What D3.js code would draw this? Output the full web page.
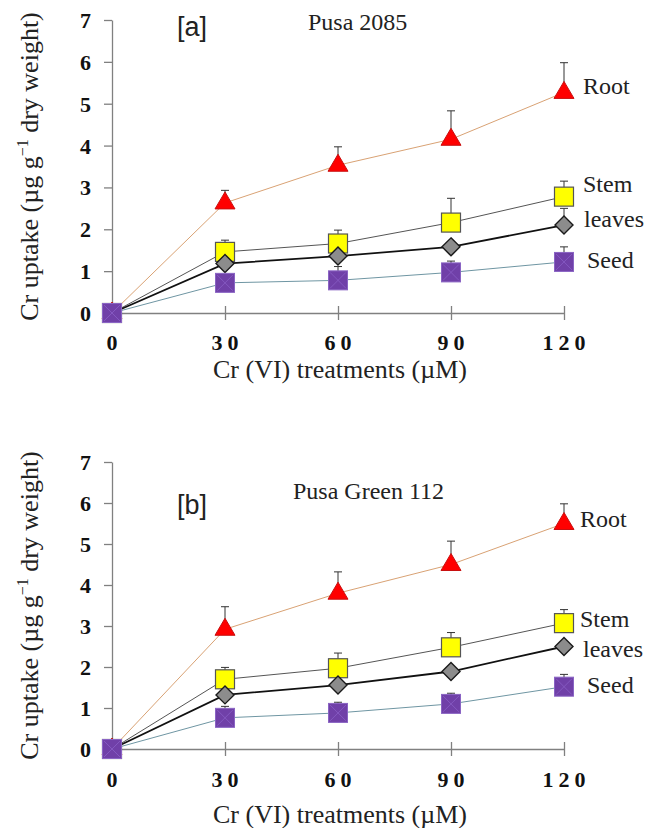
<!DOCTYPE html>
<html>
<head>
<meta charset="utf-8">
<script src="https://cdn.jsdelivr.net/npm/d3@7"></script>
<style>
  html, body { margin: 0; padding: 0; background: #fff; }
</style>
</head>
<body>
<svg id="chart" width="646" height="828"></svg>
<script>
// shared x categories (µM)
const DOSES = [0, 30, 60, 90, 120];
const Y_TICKS = [0, 1, 2, 3, 4, 5, 6, 7];

// panel [a] Pusa 2085 — means and upper error
const A_ROOT = [0, 2.63, 3.53, 4.15, 5.27];
const A_ROOT_ERR = [0, 0.3, 0.44, 0.68, 0.71];
const A_STEM = [0, 1.46, 1.66, 2.16, 2.78];
const A_STEM_ERR = [0, 0.28, 0.32, 0.58, 0.37];
const A_LEAVES = [0, 1.18, 1.36, 1.58, 2.1];
const A_LEAVES_ERR = [0, 0.1, 0.1, 0.12, 0.4];
const A_SEED = [0, 0.72, 0.78, 0.97, 1.22];
const A_SEED_ERR = [0, 0.1, 0.33, 0.27, 0.36];

// panel [b] Pusa Green 112
const B_ROOT = [0, 2.92, 3.8, 4.5, 5.5];
const B_ROOT_ERR = [0, 0.55, 0.52, 0.57, 0.48];
const B_STEM = [0, 1.7, 1.97, 2.48, 3.07];
const B_STEM_ERR = [0, 0.29, 0.37, 0.36, 0.33];
const B_LEAVES = [0, 1.32, 1.56, 1.89, 2.5];
const B_LEAVES_ERR = [0, 0.1, 0.1, 0.1, 0.1];
const B_SEED = [0, 0.76, 0.88, 1.1, 1.52];
const B_SEED_ERR = [0, 0.28, 0.26, 0.26, 0.3];

const SERIF = '"Liberation Serif", "Times New Roman", serif';
const SANS = '"Liberation Sans", Arial, sans-serif';

const SERIES = [
  { name: 'Root', shape: 'tri', line: '#d9a274', lw: 1 },
  { name: 'Stem', shape: 'sq', line: '#555', lw: 1 },
  { name: 'leaves', shape: 'dia', line: '#111', lw: 1.8 },
  { name: 'Seed', shape: 'seed', line: '#6f96a3', lw: 1 },
];

const PANELS = [
  { tag: '[a]', title: 'Pusa 2085', top: 20, bottom: 313, tickY: 350, xTitleY: 378,
    vals: [A_ROOT, A_STEM, A_LEAVES, A_SEED], errs: [A_ROOT_ERR, A_STEM_ERR, A_LEAVES_ERR, A_SEED_ERR],
    tagPos: [177, 36], titlePos: [308, 30],
    labels: [[583, 94], [583, 192], [584, 227], [587, 268]] },
  { tag: '[b]', title: 'Pusa Green 112', top: 462, bottom: 749, tickY: 787, xTitleY: 823,
    vals: [B_ROOT, B_STEM, B_LEAVES, B_SEED], errs: [B_ROOT_ERR, B_STEM_ERR, B_LEAVES_ERR, B_SEED_ERR],
    tagPos: [177, 514], titlePos: [293, 499],
    labels: [[580, 527], [580, 627], [583, 657], [587, 693]] },
];

const svg = d3.select('#chart');
const x = d3.scaleLinear().domain([0, 120]).range([112, 564]);

function marker(g, shape, cx, cy) {
  if (shape === 'tri') {
    g.append('path').attr('d', `M${cx},${cy - 11}L${cx + 10},${cy + 6}L${cx - 10},${cy + 6}Z`)
      .attr('fill', '#ff0000').attr('stroke', '#c81010').attr('stroke-width', 1);
  } else if (shape === 'sq') {
    g.append('rect').attr('x', cx - 9.5).attr('y', cy - 9.5).attr('width', 19).attr('height', 19)
      .attr('fill', '#ffff00').attr('stroke', '#555').attr('stroke-width', 1.2);
  } else if (shape === 'dia') {
    g.append('path').attr('d', `M${cx},${cy - 9}L${cx + 9},${cy}L${cx},${cy + 9}L${cx - 9},${cy}Z`)
      .attr('fill', '#8c8c8c').attr('stroke', '#1a1a1a').attr('stroke-width', 1.4);
  } else {
    g.append('rect').attr('x', cx - 9.5).attr('y', cy - 9.5).attr('width', 19).attr('height', 19)
      .attr('fill', '#7040a8').attr('stroke', '#8a64c4').attr('stroke-width', 1);
    g.append('path').attr('d', `M${cx - 8},${cy - 8}L${cx + 8},${cy + 8}M${cx + 8},${cy - 8}L${cx - 8},${cy + 8}`)
      .attr('stroke', '#8458c0').attr('stroke-width', 1);
  }
}

PANELS.forEach(p => {
  const y = d3.scaleLinear().domain([0, 7]).range([p.bottom, p.top]);
  const g = svg.append('g');

  // y axis
  const ya = g.append('g').attr('transform', `translate(${x(0)},0)`)
    .call(d3.axisLeft(y).tickValues(Y_TICKS).tickSize(8).tickSizeOuter(0).tickPadding(13).tickFormat(d3.format('d')));
  ya.select('.domain').attr('stroke', '#808080').attr('stroke-width', 1.3);
  ya.selectAll('.tick line').attr('stroke', '#808080').attr('stroke-width', 1.3);
  ya.selectAll('.tick text').style('font-family', SERIF).attr('font-weight', 'bold')
    .attr('font-size', 22).attr('fill', '#111').attr('dy', '0.34em');

  // x axis
  const xa = g.append('g').attr('transform', `translate(0,${p.bottom})`)
    .call(d3.axisBottom(x).tickValues(DOSES).tickSize(7).tickSizeOuter(0).tickFormat(() => ''));
  xa.select('.domain').attr('stroke', '#808080').attr('stroke-width', 1.3);
  xa.selectAll('.tick line').attr('stroke', '#808080').attr('stroke-width', 1.3).attr('y1', -7);
  g.append('g').selectAll('text').data(DOSES).join('text')
    .attr('x', d => x(d) + 2.5).attr('y', p.tickY)
    .attr('text-anchor', 'middle').attr('font-weight', 'bold').attr('font-size', 22)
    .attr('letter-spacing', 5).attr('fill', '#111').style('font-family', SERIF).text(d => d);

  // axis titles
  g.append('text').attr('x', 340).attr('y', p.xTitleY).attr('text-anchor', 'middle')
    .attr('font-size', 26).attr('fill', '#222').style('font-family', SERIF).text('Cr (VI) treatments (\u00b5M)');
  const yt = g.append('text').attr('transform', `translate(38,${(p.top + p.bottom) / 2}) rotate(-90)`)
    .attr('text-anchor', 'middle').attr('font-size', 26).attr('fill', '#222').style('font-family', SERIF);
  yt.append('tspan').text('Cr uptake (\u00b5g g');
  yt.append('tspan').attr('font-size', 16).attr('dy', -10).text('\u22121');
  yt.append('tspan').attr('dy', 10).text(' dry weight)');

  // panel tag and title
  g.append('text').attr('x', p.tagPos[0]).attr('y', p.tagPos[1]).style('font-family', SANS)
    .attr('font-size', 27).attr('fill', '#222').text(p.tag);
  g.append('text').attr('x', p.titlePos[0]).attr('y', p.titlePos[1]).attr('font-size', 24)
    .attr('fill', '#222').style('font-family', SERIF).text(p.title);

  // lines
  const line = d3.line().x((d, i) => x(DOSES[i])).y(d => y(d));
  SERIES.forEach((s, k) => {
    g.append('path').datum(p.vals[k]).attr('d', line).attr('fill', 'none')
      .attr('stroke', s.line).attr('stroke-width', s.lw);
  });
  // upper error bars
  SERIES.forEach((s, k) => {
    const eg = g.append('g').attr('stroke', '#333').attr('stroke-width', 1);
    DOSES.forEach((d, i) => {
      const e = p.errs[k][i];
      if (!e) return;
      const v = p.vals[k][i];
      eg.append('line').attr('x1', x(d)).attr('x2', x(d)).attr('y1', y(v)).attr('y2', y(v + e));
      eg.append('line').attr('x1', x(d) - 4).attr('x2', x(d) + 4).attr('y1', y(v + e)).attr('y2', y(v + e));
    });
  });
  // markers
  SERIES.forEach((s, k) => {
    const mg = g.append('g');
    DOSES.forEach((d, i) => marker(mg, s.shape, x(d), y(p.vals[k][i])));
  });
  // series labels
  SERIES.forEach((s, k) => {
    g.append('text').attr('x', p.labels[k][0]).attr('y', p.labels[k][1]).attr('font-size', 24)
      .attr('fill', '#222').style('font-family', SERIF).text(s.name);
  });
});
</script>
</body>
</html>
